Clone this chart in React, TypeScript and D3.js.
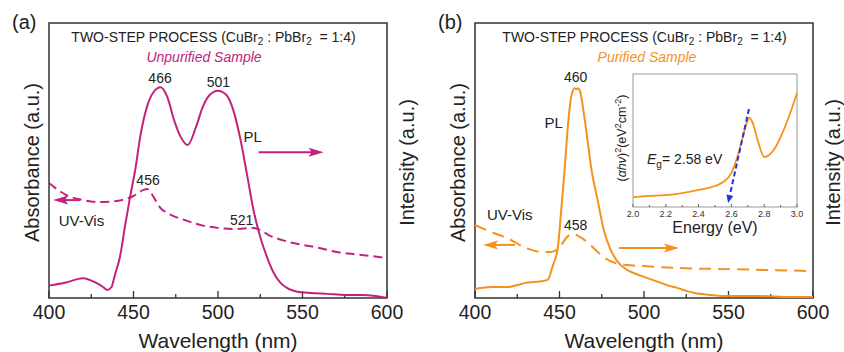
import React from "react";
import * as d3 from "d3";

const MAGENTA = "#C2227E";
const ORANGE = "#F5921E";
const BLUE = "#2233E0";
const INK = "#222";
const FONT = "Arial, 'Liberation Sans', Helvetica, sans-serif";

// ---- panel (a): unpurified sample ----
const plA_wl = [400, 410, 420, 428, 432, 434.5, 437, 439, 442, 445, 448, 451, 454, 458, 462, 466, 470, 474, 478, 482, 487, 491, 495, 500, 505, 509, 513, 517, 521, 525, 529, 533, 537, 541, 548, 555, 565, 575, 585, 593, 600];
const plA_int = [4.5, 5.6, 7.2, 5.5, 4.0, 2.9, 4.0, 8.4, 15.0, 26.2, 36.8, 46.5, 58.7, 69.6, 75.0, 76.6, 73.1, 64.7, 58.5, 55.6, 62.2, 69.5, 73.8, 75.4, 73.8, 68.4, 58.5, 45.5, 32.0, 22.2, 14.9, 9.1, 5.5, 3.6, 2.2, 1.8, 1.5, 1.1, 1.1, 0.7, 0];
const uvA_wl = [400, 410, 420, 430, 440, 450, 456, 458, 460, 463, 466, 470, 480, 490, 500, 510, 521, 525, 530, 540, 550, 560, 570, 580, 590, 600];
const uvA_abs = [41.8, 37.5, 35.6, 34.9, 35.3, 37.1, 39.3, 39.6, 38.5, 35.6, 32.7, 30.9, 28.4, 26.5, 25.5, 25.1, 25.5, 24.7, 22.9, 20.7, 19.3, 18.2, 16.7, 16.0, 15.3, 14.5];

// ---- panel (b): purified sample ----
const plB_wl = [400, 410, 420, 425, 430, 435, 440, 443, 446, 449, 451, 453, 455, 457, 459, 460, 461, 462, 465, 469, 473, 476, 480, 484, 490, 495, 500, 505, 510, 515, 520, 525, 530, 540, 550, 570, 585, 600];
const plB_int = [3.3, 4.0, 4.0, 4.7, 5.5, 5.8, 6.2, 6.6, 11.7, 18.2, 31.8, 46.4, 62.8, 73.4, 76.3, 75.9, 76.3, 75.5, 64.6, 46.4, 34.3, 25.2, 17.9, 13.5, 10.2, 8.8, 7.7, 6.6, 5.5, 4.4, 3.6, 2.6, 1.8, 1.1, 0.7, 0.7, 0.4, 0.4];
const uvB_wl = [400, 410, 420, 430, 440, 445, 450, 455, 458, 462, 467, 472, 477, 483, 490, 500, 520, 550, 600];
const uvB_abs = [26.5, 23.9, 21.5, 18.2, 16.7, 16.7, 18.5, 22.5, 23.3, 22.2, 20.0, 17.1, 14.5, 12.7, 12.0, 11.6, 10.9, 10.5, 9.8];

// ---- inset: Tauc plot ----
const tauc_E = [2.0, 2.1, 2.2, 2.3, 2.4, 2.5, 2.55, 2.6, 2.63, 2.66, 2.69, 2.71, 2.73, 2.76, 2.8, 2.83, 2.87, 2.9, 2.95, 3.0];
const tauc_val = [7.5, 8.3, 9.0, 10.5, 12.8, 15.8, 18.8, 25.6, 35.3, 48.1, 61.7, 66.9, 63.2, 50.4, 37.6, 39.1, 45.1, 52.6, 67.7, 85.7];
const fit_E = [2.58, 2.707];
const fit_val = [3, 73.7];

const wlTicks = [400, 450, 500, 550, 600];
const wlMinor = [425, 475, 525, 575];
const eTicks = [2.0, 2.2, 2.4, 2.6, 2.8, 3.0];
const eMinor = [2.1, 2.3, 2.5, 2.7, 2.9];

type Box = { left: number; right: number; top: number; bottom: number };

function Arrow({ x1, x2, y, color }: { x1: number; x2: number; y: number; color: string }) {
  const dir = Math.sign(x2 - x1);
  const head = 15, half = 4.5;
  return (
    <g>
      <line x1={x1} x2={x2 - dir * head * 0.7} y1={y} y2={y} stroke={color} strokeWidth={2} />
      <path d={`M${x2},${y} L${x2 - dir * head},${y - half} L${x2 - dir * (head - 3)},${y} L${x2 - dir * head},${y + half} Z`} fill={color} />
    </g>
  );
}

function makeLine(xs: number[], ys: number[], x: d3.ScaleLinear<number, number>, y: d3.ScaleLinear<number, number>) {
  const pts = xs.map((v, i) => [v, ys[i]] as [number, number]);
  return d3.line<[number, number]>().x(d => x(d[0])).y(d => y(d[1])).curve(d3.curveMonotoneX)(pts) || "";
}

function Frame({ box, x, tag }: { box: Box; x: d3.ScaleLinear<number, number>; tag: string }) {
  const cy = (box.top + box.bottom) / 2 + 2;
  return (
    <g fontFamily={FONT} fill={INK}>
      <rect x={box.left} y={box.top} width={box.right - box.left} height={box.bottom - box.top} fill="none" stroke="#333" strokeWidth={1.5} />
      {wlTicks.map(t => (
        <g key={t}>
          <line x1={x(t)} x2={x(t)} y1={box.bottom} y2={box.bottom - 7} stroke="#333" strokeWidth={1.3} />
          <text x={x(t)} y={box.bottom + 21} fontSize={19.5} textAnchor="middle">{t}</text>
        </g>
      ))}
      {wlMinor.map(t => (
        <line key={t} x1={x(t)} x2={x(t)} y1={box.bottom} y2={box.bottom - 4} stroke="#333" strokeWidth={1.3} />
      ))}
      <text x={(box.left + box.right) / 2} y={348} fontSize={21} textAnchor="middle">Wavelength (nm)</text>
      <text transform={`translate(${box.left - 17},${cy}) rotate(-90)`} dy="0.35em" fontSize={20} textAnchor="middle">Absorbance (a.u.)</text>
      <text transform={`translate(${box.right + 20},${cy}) rotate(-90)`} dy="0.35em" fontSize={20} textAnchor="middle">Intensity (a.u.)</text>
      <text x={box.left - 37} y={29} fontSize={20}>{tag}</text>
    </g>
  );
}

function Title({ cx }: { cx: number }) {
  return (
    <text x={cx} y={42} fontSize={14} textAnchor="middle" fontFamily={FONT} fill={INK} style={{ whiteSpace: "pre" }}>
      TWO-STEP PROCESS (CuBr<tspan fontSize={10} dy={3}>2</tspan><tspan dy={-3}> : PbBr</tspan><tspan fontSize={10} dy={3}>2</tspan><tspan dy={-3}>  = 1:4)</tspan>
    </text>
  );
}

function PanelA() {
  const box: Box = { left: 49, right: 387, top: 23, bottom: 298 };
  const x = d3.scaleLinear().domain([400, 600]).range([box.left, box.right]);
  const y = d3.scaleLinear().domain([0, 100]).range([box.bottom, box.top]);
  return (
    <g>
      <Frame box={box} x={x} tag="(a)" />
      <Title cx={213.5} />
      <text x={204} y={62} fontSize={14} fontStyle="italic" textAnchor="middle" fontFamily={FONT} fill={MAGENTA}>Unpurified Sample</text>
      <path d={makeLine(uvA_wl, uvA_abs, x, y)} fill="none" stroke={MAGENTA} strokeWidth={2} strokeDasharray="9 5" />
      <path d={makeLine(plA_wl, plA_int, x, y)} fill="none" stroke={MAGENTA} strokeWidth={2} />
      <g fontFamily={FONT} fill={INK} fontSize={14} textAnchor="middle">
        <text x={x(465.7)} y={83}>466</text>
        <text x={x(500.2)} y={86.5}>501</text>
        <text x={x(458.6)} y={185}>456</text>
        <text x={x(514)} y={225}>521</text>
        <text x={x(520.5)} y={142} fontSize={15}>PL</text>
        <text x={x(405.7)} y={226} fontSize={15} textAnchor="start">UV-Vis</text>
      </g>
      <Arrow x1={x(524)} x2={x(562.5)} y={y(53)} color={MAGENTA} />
      <Arrow x1={x(418.3)} x2={x(402.4)} y={y(35.6)} color={MAGENTA} />
    </g>
  );
}

function Inset() {
  const box: Box = { left: 633, right: 797, top: 74, bottom: 207 };
  const x = d3.scaleLinear().domain([2.0, 3.0]).range([box.left, box.right]);
  const y = d3.scaleLinear().domain([0, 100]).range([box.bottom, box.top]);
  const fx1 = x(fit_E[1]), fy1 = y(fit_val[1]);
  const fx0 = x(fit_E[0]), fy0 = y(fit_val[0]);
  const ang = Math.atan2(fy0 - fy1, fx0 - fx1);
  const hl = 8, hw = 3.5;
  const bx = fx0 - hl * Math.cos(ang), by = fy0 - hl * Math.sin(ang);
  const px = -Math.sin(ang) * hw, py = Math.cos(ang) * hw;
  return (
    <g fontFamily={FONT}>
      <rect x={box.left} y={box.top} width={box.right - box.left} height={box.bottom - box.top} fill="white" stroke="#999" strokeWidth={1} />
      {eTicks.map(t => (
        <g key={t}>
          <line x1={x(t)} x2={x(t)} y1={box.bottom} y2={box.bottom - 3} stroke="#666" />
          <text x={x(t)} y={217} fontSize={9} textAnchor="middle" fill="#333">{t.toFixed(1)}</text>
        </g>
      ))}
      {eMinor.map(t => (
        <line key={t} x1={x(t)} x2={x(t)} y1={box.bottom} y2={box.bottom - 2} stroke="#666" />
      ))}
      <path d={makeLine(tauc_E, tauc_val, x, y)} fill="none" stroke={ORANGE} strokeWidth={1.8} />
      <line x1={fx1} y1={fy1} x2={bx} y2={by} stroke={BLUE} strokeWidth={2} strokeDasharray="5 3" />
      <path d={`M${fx0},${fy0} L${bx + px},${by + py} L${bx - px},${by - py} Z`} fill={BLUE} />
      <text x={647} y={164} fontSize={14} fill={INK}>
        <tspan fontStyle="italic">E</tspan><tspan fontSize={10} dy={4}>g</tspan><tspan dy={-4}>= 2.58 eV</tspan>
      </text>
      <text x={(box.left + box.right) / 2} y={233} fontSize={16} textAnchor="middle" fill={INK}>Energy (eV)</text>
      <text transform={`translate(622,138) rotate(-90)`} dy="0.35em" fontSize={12.5} textAnchor="middle" fill={INK}>
        (<tspan fontStyle="italic">αhν</tspan>)<tspan fontSize={9} dy={-5}>2</tspan><tspan dy={5}>(eV</tspan><tspan fontSize={9} dy={-5}>2</tspan><tspan dy={5}>cm</tspan><tspan fontSize={9} dy={-5}>-2</tspan><tspan dy={5}>)</tspan>
      </text>
    </g>
  );
}

function PanelB() {
  const box: Box = { left: 475, right: 813, top: 23, bottom: 298 };
  const x = d3.scaleLinear().domain([400, 600]).range([box.left, box.right]);
  const y = d3.scaleLinear().domain([0, 100]).range([box.bottom, box.top]);
  return (
    <g>
      <Frame box={box} x={x} tag="(b)" />
      <Title cx={644.5} />
      <text x={647} y={62} fontSize={14} fontStyle="italic" textAnchor="middle" fontFamily={FONT} fill={ORANGE}>Purified Sample</text>
      <path d={makeLine(uvB_wl, uvB_abs, x, y)} fill="none" stroke={ORANGE} strokeWidth={2} strokeDasharray="12 7" />
      <path d={makeLine(plB_wl, plB_int, x, y)} fill="none" stroke={ORANGE} strokeWidth={2} />
      <g fontFamily={FONT} fill={INK} fontSize={14} textAnchor="middle">
        <text x={x(459.5)} y={82}>460</text>
        <text x={x(459.5)} y={230}>458</text>
        <text x={x(446.5)} y={128} fontSize={15}>PL</text>
        <text x={x(407.1)} y={220} fontSize={15} textAnchor="start">UV-Vis</text>
      </g>
      <Arrow x1={x(423.7)} x2={x(404.7)} y={y(19.3)} color={ORANGE} />
      <Arrow x1={x(485.2)} x2={x(520.7)} y={y(18.2)} color={ORANGE} />
      <Inset />
    </g>
  );
}

export default function App() {
  return (
    <svg width={844} height={352} viewBox="0 0 844 352" style={{ position: "absolute", left: 0, top: 0, background: "white" }}>
      <PanelA />
      <PanelB />
    </svg>
  );
}
